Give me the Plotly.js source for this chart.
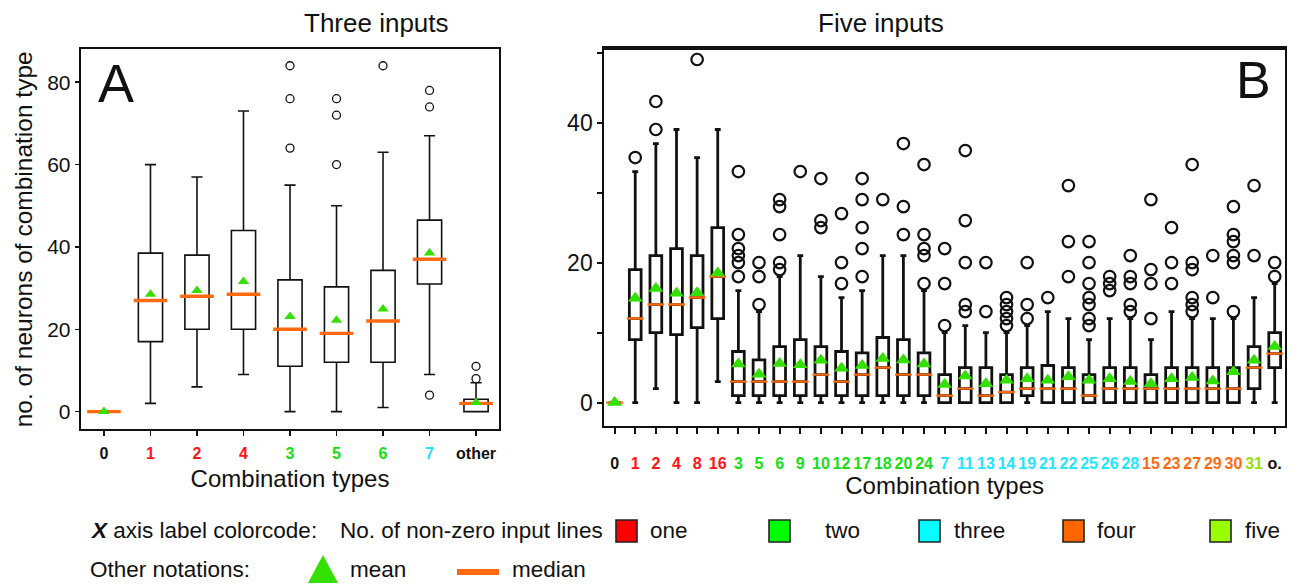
<!DOCTYPE html>
<html><head><meta charset="utf-8">
<script src="https://cdn.plot.ly/plotly-3.0.1.min.js"></script>
<style>html,body{margin:0;padding:0;background:#fff}#chart{width:1300px;height:584px}</style>
</head><body><div id="chart"></div>
<script>
// ---------- Panel A: three inputs ----------
const catsA   = ['0','1','2','4','3','5','6','7','other'];
const groupA  = [0, 1, 1, 1, 2, 2, 2, 3, -1];           // no. of non-zero input lines (-1 = other)
const lowA    = [0, 2, 6, 9, 0, 0, 1, 9, 0];
const q1A     = [0, 17, 20, 20, 11, 12, 12, 31, 0];
const medA    = [0, 27, 28, 28.5, 20, 19, 22, 37, 2];
const q3A     = [0, 38.5, 38, 44, 32, 30.3, 34.3, 46.5, 3];
const highA   = [0, 60, 57, 73, 55, 50, 63, 67, 7];
const meanA   = [0, 28.5, 29.4, 31.6, 23.1, 22.2, 24.9, 38.5, 2.2];
const outA    = [[], [], [], [], [64, 76, 84], [60, 72, 76], [84], [4, 74, 78], [8, 11]];

// ---------- Panel B: five inputs ----------
const catsB  = ['0','1','2','4','8','16','3','5','6','9','10','12','17','18','20','24',
                '7','11','13','14','19','21','22','25','26','28','15','23','27','29','30','31','o.'];
const groupB = [0,1,1,1,1,1,2,2,2,2,2,2,2,2,2,2,3,3,3,3,3,3,3,3,3,3,4,4,4,4,4,5,-1];
const lowB   = [0,0,2,0,0,3, 0,0,0,0,0,0,0,0,0,0, 0,0,0,0,0,0,0,0,0,0, 0,0,0,0,0, 0,0];
const q1B    = [0,9,10,9.7,10.7,12, 1,1,1,1,1,1,1,1,1,1, 0,0,0,0,1,0,0,0,0,0, 0,0,0,0,0, 2,5];
const medB   = [0,12,14,14,15,18, 3,3,3,3,4,3,4,5,4,4, 1,2,1,1.5,2,2,2,1,2,2, 2,2,2,2,2, 5,7];
const q3B    = [0,19,21,22,21,25, 7.3,6.1,8,9,8,7.3,7.1,9.3,9,7.1, 4,5,5,4,5,5.3,5,4,5,5, 4,5,5,5,5, 8,10];
const highB  = [0,33,37,39,35,39, 16,13,18,21,18,15,16,21,21,16, 10,11,10,10,11,13,12,9,12,12, 9,13,12,12,12, 15,17];
const meanB  = [0,14.9,16.3,15.6,15.7,18.5, 5.5,4.05,5.6,5.4,6.05,4.9,5.3,6.3,6.1,5.5,
                2.6,3.8,2.7,3.2,3.4,3.2,3.7,3.2,3.4,3.0, 2.7,3.4,3.6,3.1,4.4, 6.05,8.0];
const outB   = [[],[35],[39,43],[],[49],[],
                [18,20,21,22,24,33],[14,18,20],[19,20,24,28,29],[33],[25,26,32],[17,20,27],
                [18,22,25,29,32],[29],[24,28,37],[17,21,22,24,34],
                [11,17,22],[13,14,20,26,36],[13,20],[11,12,13,14,15],[12,14,20],[15],[18,23,31],
                [11,12,14,15,17,20,23],[16,17,18],[13,14,17,18,21],
                [12,17,19,29],[17,20,25],[13,14,15,19,20,34],[15,21],[13,20,21,23,24,28],
                [21,31],[18,20]];

// ---------- legend / colour code ----------
const groupNames  = ['one','two','three','four','five'];
const groupFill   = ['#ff0000','#00ff00','#00ffff','#ff6600','#99ff00'];
const labelColor  = {'-1':'#111','0':'#111','1':'#ff1414','2':'#14e014','3':'#1ee6ff','4':'#ff6a10','5':'#9ade10'};

const W = 1300, H = 584;
const px = x => x / W, py = y => 1 - y / H;
const REG = 'Liberation Sans, Arial, sans-serif';
const MEDIAN_C = '#ff6a10', MEAN_C = '#33e000', INK = '#111';

function tickText(cats, groups) {
  return cats.map((c, i) => `<span style="color:${labelColor[String(groups[i])]}">${c}</span>`);
}
function flatOut(cats, outs) {
  const x = [], y = [];
  outs.forEach((arr, i) => arr.forEach(v => { x.push(cats[i]); y.push(v); }));
  return {x, y};
}

const oA = flatOut(catsA, outA), oB = flatOut(catsB, outB);

const traces = [
  {type:'box', x:catsA, q1:q1A, median:medA, q3:q3A, lowerfence:lowA, upperfence:highA,
   xaxis:'x', yaxis:'y', boxpoints:false, width:0.52, whiskerwidth:0.46,
   line:{color:INK, width:1.6}, fillcolor:'rgba(0,0,0,0)', hoverinfo:'skip', showlegend:false},
  {type:'scatter', mode:'markers', x:catsA, y:medA, xaxis:'x', yaxis:'y', hoverinfo:'skip', showlegend:false,
   marker:{symbol:'line-ew', size:24, color:MEDIAN_C, line:{width:3.4, color:MEDIAN_C}}},
  {type:'scatter', mode:'markers', x:catsA, y:meanA, xaxis:'x', yaxis:'y', hoverinfo:'skip', showlegend:false,
   marker:{symbol:'triangle-up', size:10, color:MEAN_C, line:{width:0}}},
  {type:'scatter', mode:'markers', x:oA.x, y:oA.y, xaxis:'x', yaxis:'y', hoverinfo:'skip', showlegend:false,
   marker:{symbol:'circle-open', size:8, color:INK, line:{width:1.3, color:INK}}},

  {type:'box', x:catsB, q1:q1B, median:medB, q3:q3B, lowerfence:lowB, upperfence:highB,
   xaxis:'x2', yaxis:'y2', boxpoints:false, width:0.57, whiskerwidth:0.5,
   line:{color:INK, width:2.8}, fillcolor:'rgba(0,0,0,0)', hoverinfo:'skip', showlegend:false},
  {type:'scatter', mode:'markers', x:catsB, y:medB, xaxis:'x2', yaxis:'y2', hoverinfo:'skip', showlegend:false,
   marker:{symbol:'line-ew', size:12, color:MEDIAN_C, line:{width:2.4, color:MEDIAN_C}}},
  {type:'scatter', mode:'markers', x:catsB, y:meanB, xaxis:'x2', yaxis:'y2', hoverinfo:'skip', showlegend:false,
   marker:{symbol:'triangle-up', size:13, color:MEAN_C, line:{width:0}}},
  {type:'scatter', mode:'markers', x:oB.x, y:oB.y, xaxis:'x2', yaxis:'y2', hoverinfo:'skip', showlegend:false,
   marker:{symbol:'circle-open', size:11.5, color:INK, line:{width:2.2, color:INK}}}
];

const axCommon = {showline:true, linecolor:INK, mirror:true, showgrid:false, zeroline:false,
                  ticks:'outside', tickcolor:INK, fixedrange:true};

const LEG = {family:REG, size:22.5, color:INK};
const annotations = [
  {text:'Three inputs', x:px(301.5), y:py(22.5), font:{family:REG, size:26, color:INK}},
  {text:'Five inputs',  x:px(946),   y:py(22.5), font:{family:REG, size:26, color:INK}},
  {text:'A', x:px(96), y:py(83), xanchor:'left', font:{family:REG, size:54, color:INK}},
  {text:'B', x:px(1273), y:py(80), xanchor:'right', font:{family:REG, size:52, color:INK}},
  {text:'<b><i>X</i></b> axis label colorcode:', x:px(88), y:py(530), xanchor:'left'},
  {text:'No. of non-zero input lines', x:px(338), y:py(530), xanchor:'left'},
  {text:'Other notations:', x:px(88), y:py(569), xanchor:'left'},
  {text:'mean', x:px(348), y:py(569), xanchor:'left'},
  {text:'median', x:px(510), y:py(569), xanchor:'left'}
].map(a => Object.assign({xref:'paper', yref:'paper', showarrow:false, yanchor:'middle', font:LEG}, a));

const sqX = [616, 769, 919, 1063, 1210];
const txtX = [648, 823, 952, 1095, 1243];
const shapes = [
  {type:'line', xref:'paper', yref:'paper', x0:px(603), x1:px(1286), y0:py(48.3), y1:py(48.3),
   line:{color:INK, width:3.5}},
  {type:'path', xref:'paper', yref:'paper',
   path:`M ${px(308)},${py(583)} L ${px(338)},${py(583)} L ${px(323)},${py(555)} Z`,
   fillcolor:MEAN_C, line:{width:0}},
  {type:'rect', xref:'paper', yref:'paper', x0:px(457), x1:px(499), y0:py(575), y1:py(569),
   fillcolor:MEDIAN_C, line:{width:0}}
];
groupNames.forEach((g, i) => {
  shapes.push({type:'rect', xref:'paper', yref:'paper', x0:px(sqX[i]), x1:px(sqX[i] + 21),
               y0:py(542), y1:py(520), fillcolor:groupFill[i], line:{color:'#222', width:1.6}});
  annotations.push({text:g, x:px(txtX[i]), y:py(530), xanchor:'left', yanchor:'middle',
                    xref:'paper', yref:'paper', showarrow:false, font:LEG});
});

const layout = {
  width:W, height:H, margin:{l:0, r:0, t:0, b:0}, paper_bgcolor:'#fff', plot_bgcolor:'#fff',
  showlegend:false,
  xaxis: Object.assign({}, axCommon, {
    domain:[px(80.7), px(499.3)], anchor:'y', type:'category', range:[-0.5, 8.5],
    tickmode:'array', tickvals:catsA, ticktext:tickText(catsA, groupA), tickangle:0,
    ticklen:5, tickwidth:1.5, linewidth:2, ticklabelstandoff:3,
    tickfont:{family:REG, size:16, weight:700, color:INK},
    title:{text:'Combination types', font:{family:REG, size:24, color:INK}, standoff:10}}),
  yaxis: Object.assign({}, axCommon, {
    domain:[py(429.3), py(49.3)], anchor:'x', range:[-4.3, 88],
    tickmode:'array', tickvals:[0,20,40,60,80], ticklen:4, tickwidth:1.5, linewidth:2,
    tickfont:{family:REG, size:21, color:INK},
    title:{text:'no. of neurons of combination type', font:{family:REG, size:24.5, color:INK}, standoff:8}}),
  xaxis2: Object.assign({}, axCommon, {
    domain:[px(604.3), px(1285)], anchor:'y2', type:'category', range:[-0.5, 32.5],
    tickmode:'array', tickvals:catsB, ticktext:tickText(catsB, groupB), tickangle:0,
    ticklen:6, tickwidth:2, linewidth:2, ticklabelstandoff:16,
    tickfont:{family:REG, size:16, weight:700, color:INK},
    title:{text:'Combination types', font:{family:REG, size:24, color:INK}, standoff:6}}),
  yaxis2: Object.assign({}, axCommon, {
    domain:[py(425.7), py(48.3)], anchor:'x2', range:[-3.3, 50.6],
    tickmode:'array', tickvals:[0,10,20,30,40,50], ticktext:['0','','20','','40',''],
    ticklen:5, tickwidth:2, linewidth:2,
    tickfont:{family:REG, size:23, color:INK}}),
  annotations, shapes
};

Plotly.newPlot('chart', traces, layout, {staticPlot:true, displayModeBar:false});
</script></body></html>
